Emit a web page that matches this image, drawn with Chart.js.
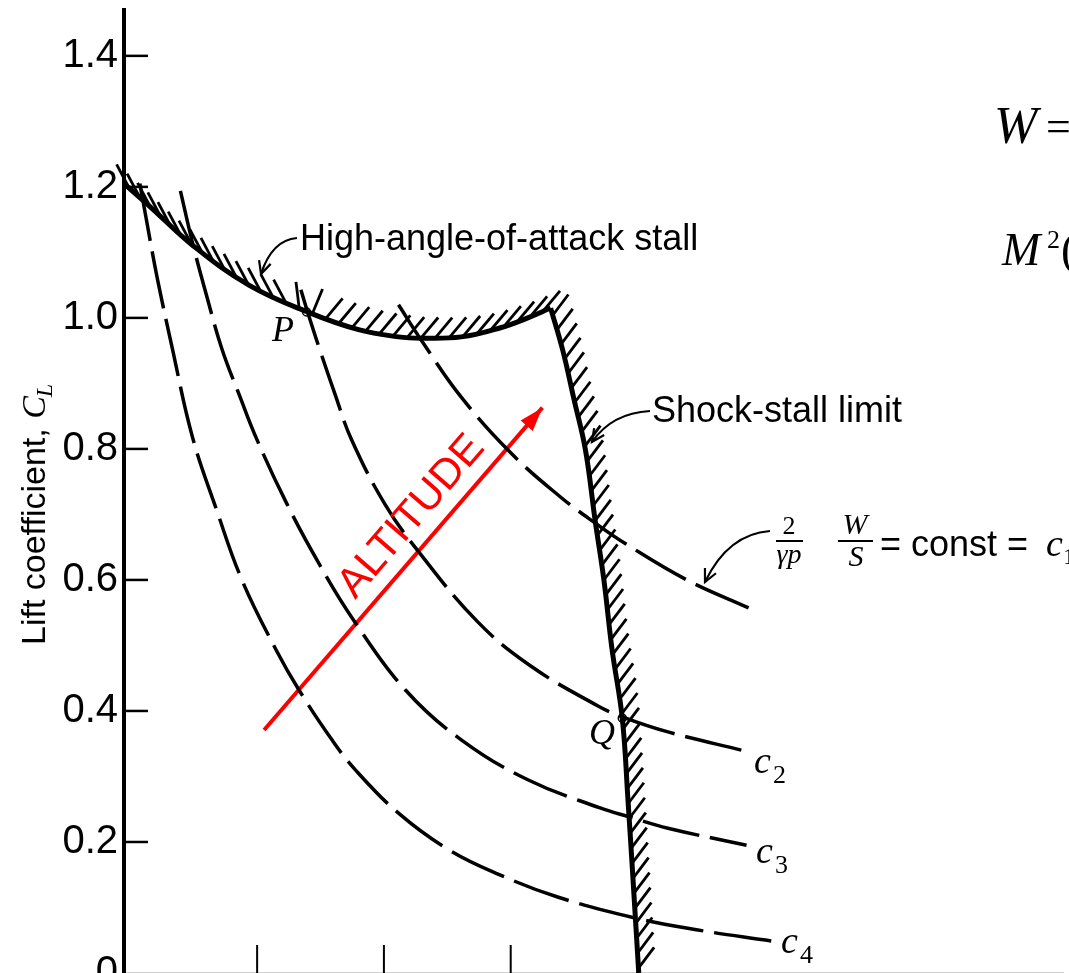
<!DOCTYPE html>
<html>
<head>
<meta charset="utf-8">
<script src="https://cdn.jsdelivr.net/npm/chart.js@4.4.1/dist/chart.umd.min.js"></script>
<style>
  html, body { margin: 0; padding: 0; background: #fff; overflow: hidden; }
  #wrap { width: 1069px; height: 973px; overflow: hidden; }
</style>
</head>
<body>
<div id="wrap"><canvas id="chart" width="1069" height="1000"></canvas></div>
<script>
/*************** data: Mach number M (x) and lift coefficient CL (y) ***************/
const xTicks = [0.2, 0.4, 0.6, 0.8];
const yTicks = [0.2, 0.4, 0.6, 0.8, 1.0, 1.2, 1.4];

// high-angle-of-attack stall boundary
const stallM  = [-0.010, 0.031, 0.098, 0.187, 0.282, 0.360, 0.423, 0.459, 0.522, 0.584, 0.627, 0.663];
const stallCL = [1.205, 1.170, 1.111, 1.050, 1.008, 0.982, 0.971, 0.969, 0.971, 0.985, 1.000, 1.015];

// shock-stall limit
const shockM  = [0.663, 0.682, 0.700, 0.718, 0.733, 0.747, 0.760, 0.776, 0.785, 0.793, 0.802];
const shockCL = [1.015, 0.951, 0.875, 0.798, 0.692, 0.600, 0.493, 0.389, 0.264, 0.142, 0.000];

// (2 / gamma p)(W / S) = const curves
const c1M  = [0.423, 0.459, 0.522, 0.600, 0.678, 0.736, 0.780, 0.878, 0.976];
const c1CL = [1.020, 0.966, 0.879, 0.794, 0.727, 0.685, 0.656, 0.600, 0.557];

const c2M  = [0.269, 0.280, 0.299, 0.322, 0.349, 0.402, 0.454, 0.548, 0.631, 0.737, 0.776, 0.848, 0.969];
const c2CL = [1.043, 1.008, 0.951, 0.886, 0.814, 0.715, 0.644, 0.536, 0.469, 0.408, 0.391, 0.368, 0.339];

const c3M  = [0.079, 0.098, 0.120, 0.145, 0.172, 0.198, 0.246, 0.297, 0.352, 0.434, 0.522, 0.627, 0.741, 0.788, 0.848, 0.972];
const c3CL = [1.194, 1.115, 1.035, 0.951, 0.882, 0.818, 0.718, 0.626, 0.539, 0.432, 0.356, 0.295, 0.252, 0.238, 0.221, 0.195];

const c4M  = [0.015, 0.024, 0.043, 0.065, 0.098, 0.136, 0.176, 0.230, 0.266, 0.318, 0.355, 0.423, 0.501, 0.580, 0.674, 0.796, 0.893, 1.011];
const c4CL = [1.205, 1.157, 1.058, 0.959, 0.818, 0.707, 0.600, 0.493, 0.432, 0.356, 0.310, 0.244, 0.189, 0.151, 0.116, 0.084, 0.066, 0.049];

// altitude arrow (tail, tip)
const arrowM  = [0.211, 0.650];
const arrowCL = [0.371, 0.863];

// marked points
const pointNames = ['P', 'Q'];
const pointM  = [0.278, 0.776];
const pointCL = [1.009, 0.389];

/*************** helpers ***************/
const SANS = '"Liberation Sans", Arial, sans-serif';
const SERIF = '"Liberation Serif", "DejaVu Serif", serif';

function xy(ms, cls) {
  return ms.map((m, i) => ({ x: m, y: cls[i] }));
}

function dashed(data) {
  return {
    data: data,
    borderColor: '#000',
    borderWidth: 3.5,
    borderDash: [58, 11],
    pointRadius: 0,
    tension: 0.4,
    fill: false
  };
}

// dense polyline along the drawn spline of a dataset
function samplePath(meta) {
  const pts = meta.data;
  const out = [];
  for (let i = 0; i < pts.length - 1; i++) {
    const a = pts[i], b = pts[i + 1];
    const c1x = a.cp2x ?? a.x, c1y = a.cp2y ?? a.y;
    const c2x = b.cp1x ?? b.x, c2y = b.cp1y ?? b.y;
    for (let k = 0; k < 24; k++) {
      const t = k / 24, u = 1 - t;
      out.push({
        x: u * u * u * a.x + 3 * u * u * t * c1x + 3 * u * t * t * c2x + t * t * t * b.x,
        y: u * u * u * a.y + 3 * u * u * t * c1y + 3 * u * t * t * c2y + t * t * t * b.y
      });
    }
  }
  const last = pts[pts.length - 1];
  out.push({ x: last.x, y: last.y });
  return out;
}

function hatch(ctx, path, step, len, angleAt) {
  let acc = step / 2;
  for (let i = 1; i < path.length; i++) {
    const p = path[i - 1], q = path[i];
    const d = Math.hypot(q.x - p.x, q.y - p.y);
    while (acc <= d) {
      const t = acc / d;
      const x = p.x + (q.x - p.x) * t, y = p.y + (q.y - p.y) * t;
      const a = angleAt(x, y);
      ctx.beginPath();
      ctx.moveTo(x, y);
      ctx.lineTo(x + len * Math.cos(a), y + len * Math.sin(a));
      ctx.stroke();
      acc += step;
    }
    acc -= d;
  }
}

function leader(ctx, x0, y0, cx, cy, x1, y1) {
  ctx.beginPath();
  ctx.moveTo(x0, y0);
  ctx.quadraticCurveTo(cx, cy, x1, y1);
  ctx.stroke();
  const a = Math.atan2(y1 - cy, x1 - cx);
  ctx.beginPath();
  ctx.moveTo(x1 - 14 * Math.cos(a - 0.45), y1 - 14 * Math.sin(a - 0.45));
  ctx.lineTo(x1, y1);
  ctx.lineTo(x1 - 14 * Math.cos(a + 0.45), y1 - 14 * Math.sin(a + 0.45));
  ctx.stroke();
}

/*************** plugins ***************/
const axisTicks = {
  id: 'axisTicks',
  afterDraw(chart) {
    const { ctx, chartArea, scales } = chart;
    ctx.save();
    ctx.strokeStyle = '#000';
    ctx.lineWidth = 2.5;
    yTicks.forEach(v => {
      const y = scales.y.getPixelForValue(v);
      ctx.beginPath();
      ctx.moveTo(chartArea.left, y);
      ctx.lineTo(chartArea.left + 24, y);
      ctx.stroke();
    });
    ctx.lineWidth = 2;
    xTicks.forEach(v => {
      const x = scales.x.getPixelForValue(v);
      ctx.beginPath();
      ctx.moveTo(x, chartArea.bottom);
      ctx.lineTo(x, chartArea.bottom - 28);
      ctx.stroke();
    });
    ctx.restore();
  }
};

const hatching = {
  id: 'hatching',
  afterDatasetsDraw(chart) {
    const ctx = chart.ctx;
    ctx.save();
    ctx.strokeStyle = '#000';
    ctx.lineWidth = 2.8;
    ctx.lineCap = 'butt';
    const stallPath = samplePath(chart.getDatasetMeta(4));
    hatch(ctx, stallPath, 14, 27, (x) => {
      const left = -118 * Math.PI / 180, right = -50 * Math.PI / 180;
      const t = Math.min(1, Math.max(0, (x - 290) / 30));
      return left + (right - left) * t;
    });
    const shockPath = samplePath(chart.getDatasetMeta(5));
    hatch(ctx, shockPath, 15, 26, () => -53 * Math.PI / 180);
    ctx.restore();
  }
};

const notes = {
  id: 'notes',
  afterDraw(chart) {
    const { ctx, scales } = chart;
    ctx.save();
    ctx.fillStyle = '#000';
    ctx.strokeStyle = '#000';
    ctx.textBaseline = 'alphabetic';

    // y axis title
    ctx.save();
    ctx.translate(45, 645);
    ctx.rotate(-Math.PI / 2);
    ctx.textAlign = 'left';
    ctx.font = '34px ' + SANS;
    const t1 = 'Lift coefficient, ';
    ctx.fillText(t1, 0, 0);
    let w = ctx.measureText(t1).width;
    ctx.font = 'italic 34px ' + SERIF;
    ctx.fillText('C', w, 0);
    w += ctx.measureText('C').width;
    ctx.font = 'italic 24px ' + SERIF;
    ctx.fillText('L', w - 1, 7);
    ctx.restore();

    // labels and leaders
    ctx.textAlign = 'left';
    ctx.lineWidth = 2.2;
    ctx.font = '36px ' + SANS;
    ctx.fillText('High-angle-of-attack stall', 300, 250);
    leader(ctx, 297, 238, 272, 240, 261, 274);

    ctx.font = '36px ' + SANS;
    ctx.fillText('Shock-stall limit', 652, 422);
    leader(ctx, 650, 411, 612, 413, 592, 442);

    // (2 / gamma p)(W / S) = const = c1
    ctx.textAlign = 'center';
    ctx.font = '26px ' + SERIF;
    ctx.fillText('2', 789, 534);
    ctx.font = 'italic 28px ' + SERIF;
    ctx.fillText('\u03b3p', 789, 563);
    ctx.font = 'italic 30px ' + SERIF;
    ctx.fillText('W', 855, 534);
    ctx.fillText('S', 856, 566);
    ctx.lineWidth = 2;
    ctx.beginPath();
    ctx.moveTo(776, 541); ctx.lineTo(803, 541);
    ctx.moveTo(838, 541); ctx.lineTo(873, 541);
    ctx.stroke();
    ctx.textAlign = 'left';
    ctx.font = '36px ' + SANS;
    ctx.fillText('= const = ', 880, 556);
    ctx.font = 'italic 38px ' + SERIF;
    ctx.fillText('c', 1046, 556);
    ctx.font = '24px ' + SERIF;
    ctx.fillText('1', 1063, 564);
    ctx.lineWidth = 2.2;
    leader(ctx, 770, 531, 728, 534, 705, 582);

    // c2, c3, c4
    const cLabels = [['2', 754, 773], ['3', 756, 863], ['4', 781, 953]];
    cLabels.forEach(([s, x, y]) => {
      ctx.font = 'italic 38px ' + SERIF;
      ctx.fillText('c', x, y);
      ctx.font = '26px ' + SERIF;
      ctx.fillText(s, x + 19, y + 10);
    });

    // P and Q
    ctx.font = 'italic 36px ' + SERIF;
    ctx.fillText(pointNames[0], 272, 341);
    ctx.fillText(pointNames[1], 589, 744);

    // equations at the right edge
    ctx.font = 'italic 52px ' + SERIF;
    ctx.fillText('W', 994, 143);
    ctx.font = '44px ' + SERIF;
    ctx.fillText('=', 1046, 141);
    ctx.font = 'italic 46px ' + SERIF;
    ctx.fillText('M', 1002, 265);
    ctx.font = '26px ' + SERIF;
    ctx.fillText('2', 1047, 248);
    ctx.font = '46px ' + SERIF;
    ctx.fillText('(', 1061, 265);

    // altitude arrow head and text
    const x0 = scales.x.getPixelForValue(arrowM[0]), y0 = scales.y.getPixelForValue(arrowCL[0]);
    const x1 = scales.x.getPixelForValue(arrowM[1]), y1 = scales.y.getPixelForValue(arrowCL[1]);
    const a = Math.atan2(y1 - y0, x1 - x0);
    ctx.fillStyle = '#ff0000';
    ctx.beginPath();
    ctx.moveTo(x1, y1);
    ctx.lineTo(x1 - 24 * Math.cos(a) + 8 * Math.sin(a), y1 - 24 * Math.sin(a) - 8 * Math.cos(a));
    ctx.lineTo(x1 - 24 * Math.cos(a) - 8 * Math.sin(a), y1 - 24 * Math.sin(a) + 8 * Math.cos(a));
    ctx.closePath();
    ctx.fill();
    const along = 258, off = 16;
    const tx = x0 + along * Math.cos(a) + off * Math.sin(a);
    const ty = y0 + along * Math.sin(a) - off * Math.cos(a);
    ctx.save();
    ctx.translate(tx, ty);
    ctx.rotate(a);
    ctx.textAlign = 'center';
    ctx.font = '42px ' + SANS;
    ctx.fillText('ALTITUDE', 0, 0);
    ctx.restore();

    ctx.restore();
  }
};

/*************** chart ***************/
const ctx = document.getElementById('chart').getContext('2d');

new Chart(ctx, {
  type: 'line',
  data: {
    datasets: [
      dashed(xy(c1M, c1CL)),
      dashed(xy(c2M, c2CL)),
      dashed(xy(c3M, c3CL)),
      dashed(xy(c4M, c4CL)),
      {
        data: xy(stallM, stallCL),
        borderColor: '#000',
        borderWidth: 5,
        pointRadius: 0,
        tension: 0.4
      },
      {
        data: xy(shockM, shockCL),
        borderColor: '#000',
        borderWidth: 5,
        pointRadius: 0,
        tension: 0.4
      },
      {
        data: xy(arrowM, arrowCL),
        borderColor: '#ff0000',
        borderWidth: 4,
        pointRadius: 0,
        tension: 0
      },
      {
        data: xy(pointM, pointCL),
        showLine: false,
        pointRadius: 4,
        pointBorderWidth: 1.5,
        pointBorderColor: '#000',
        pointBackgroundColor: '#fff'
      }
    ]
  },
  options: {
    responsive: false,
    animation: false,
    devicePixelRatio: 1,
    layout: { padding: { left: 0, right: 0, top: 10, bottom: 0 } },
    plugins: {
      legend: { display: false },
      tooltip: { enabled: false }
    },
    scales: {
      x: {
        type: 'linear',
        min: -0.01,
        max: 1.472,
        grid: { display: false, drawTicks: false },
        ticks: { display: false },
        border: { display: true, color: '#cfcfcf', width: 2 },
        afterFit(s) { s.height = 27; s.paddingLeft = 0; s.paddingRight = 0; }
      },
      y: {
        type: 'linear',
        min: 0,
        max: 1.47,
        grid: { display: false, drawTicks: false },
        border: { display: true, color: '#000', width: 4 },
        ticks: {
          stepSize: 0.2,
          includeBounds: false,
          padding: 6,
          color: '#000',
          font: { family: SANS, size: 40 },
          callback: v => v === 0 ? '0' : v.toFixed(1)
        },
        afterFit(s) { s.width = 124; s.paddingTop = 0; s.paddingBottom = 0; }
      }
    }
  },
  plugins: [hatching, axisTicks, notes]
});
</script>
</body>
</html>
